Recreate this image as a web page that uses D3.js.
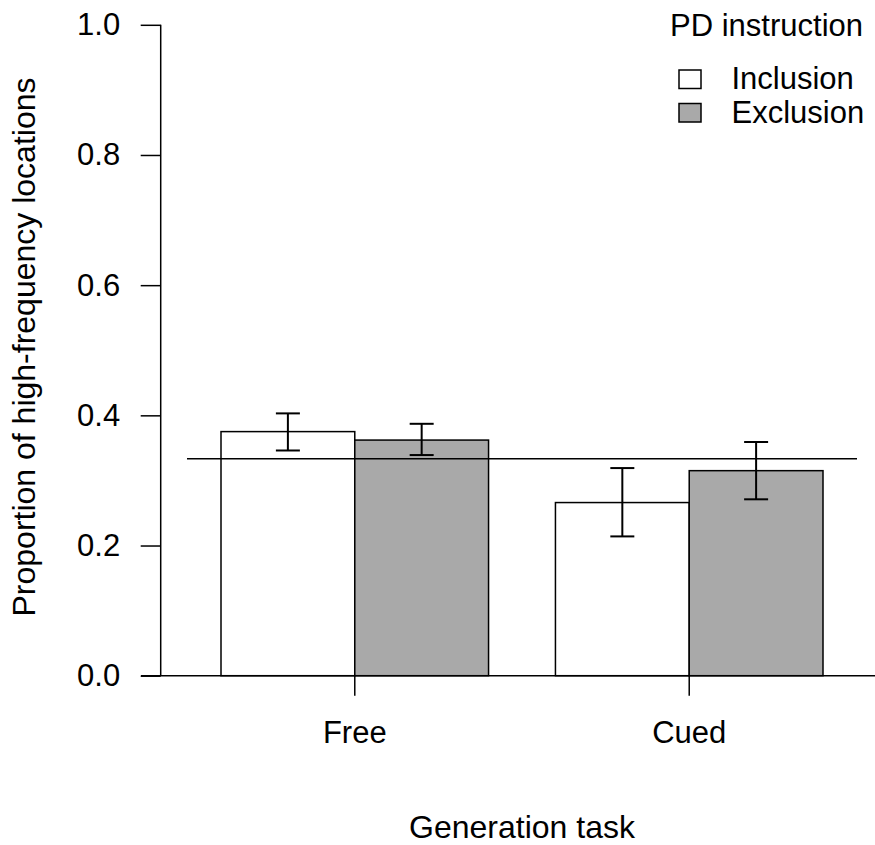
<!DOCTYPE html>
<html>
<head>
<meta charset="utf-8">
<script src="https://cdn.jsdelivr.net/npm/d3@7"></script>
<style>
  html, body { margin: 0; padding: 0; background: #fff; }
  svg { display: block; font-family: "Liberation Sans", Arial, sans-serif; }
</style>
</head>
<body>
<div id="chart"></div>
<script>
const groups = ['Free', 'Cued'];
const series = ['Inclusion', 'Exclusion'];
const inclusionMean = [0.375, 0.266];
const exclusionMean = [0.362, 0.315];
const inclusionUpper = [0.403, 0.319];
const inclusionLower = [0.346, 0.214];
const exclusionUpper = [0.387, 0.359];
const exclusionLower = [0.339, 0.271];
const chanceLevel = 1 / 3;
const yTicks = [0, 0.2, 0.4, 0.6, 0.8, 1.0];

const width = 875, height = 845;
const fills = { Inclusion: '#ffffff', Exclusion: '#a9a9a9' };
const labelSize = 31, titleSize = 32;

const rows = [];
groups.forEach((g, i) => {
  rows.push({ group: g, key: 'Inclusion', value: inclusionMean[i], lo: inclusionLower[i], hi: inclusionUpper[i] });
  rows.push({ group: g, key: 'Exclusion', value: exclusionMean[i], lo: exclusionLower[i], hi: exclusionUpper[i] });
});

const svg = d3.select('#chart').append('svg')
  .attr('width', width)
  .attr('height', height);

const y = d3.scaleLinear().domain([0, 1]).range([675.7, 24.8]);

const x0 = d3.scaleBand()
  .domain(groups)
  .range([221, 823])
  .paddingInner(0.2)
  .paddingOuter(0);

const x1 = d3.scaleBand()
  .domain(series)
  .range([0, x0.bandwidth()]);

// Y axis
const yAxis = svg.append('g')
  .attr('transform', 'translate(160.7,0)')
  .call(d3.axisLeft(y).tickValues(yTicks).tickSize(20).tickPadding(20.5).tickFormat(d3.format('.1f')));
yAxis.select('.domain').attr('d', `M0,${y(1)}V${y(0)}`).attr('stroke', '#000').attr('stroke-width', 1.5);
yAxis.selectAll('.tick line').attr('stroke', '#000').attr('stroke-width', 1.5);
yAxis.selectAll('.tick text')
  .attr('fill', '#000')
  .attr('font-size', labelSize)
  .attr('font-family', '"Liberation Sans", Arial, sans-serif');

// Bars
svg.append('g')
  .selectAll('rect')
  .data(rows)
  .enter()
  .append('rect')
  .attr('x', d => x0(d.group) + x1(d.key))
  .attr('y', d => y(d.value))
  .attr('width', x1.bandwidth())
  .attr('height', d => y(0) - y(d.value))
  .attr('fill', d => fills[d.key])
  .attr('stroke', '#000')
  .attr('stroke-width', 1.5);

// Baseline (h = 0)
svg.append('line')
  .attr('x1', 141).attr('x2', 875)
  .attr('y1', y(0)).attr('y2', y(0))
  .attr('stroke', '#000').attr('stroke-width', 1.5);

// Chance line
svg.append('line')
  .attr('x1', 187).attr('x2', 857)
  .attr('y1', y(chanceLevel)).attr('y2', y(chanceLevel))
  .attr('stroke', '#000').attr('stroke-width', 1.5);

// X axis (ticks at group centres)
const xAxis = svg.append('g')
  .attr('transform', `translate(0,${y(0)})`)
  .call(d3.axisBottom(x0).tickSize(20));
xAxis.select('.domain').remove();
xAxis.selectAll('.tick line').attr('stroke', '#000').attr('stroke-width', 1.5);
xAxis.selectAll('.tick text')
  .attr('fill', '#000')
  .attr('y', 67.5)
  .attr('dy', 0)
  .attr('font-size', labelSize)
  .attr('font-family', '"Liberation Sans", Arial, sans-serif');

// Error bars
const eb = svg.append('g')
  .attr('stroke', '#000')
  .attr('stroke-width', 2);
const cx = d => x0(d.group) + x1(d.key) + x1.bandwidth() / 2;
eb.selectAll('.stem').data(rows).enter().append('line')
  .attr('x1', cx).attr('x2', cx)
  .attr('y1', d => y(d.hi)).attr('y2', d => y(d.lo));
eb.selectAll('.capHi').data(rows).enter().append('line')
  .attr('x1', d => cx(d) - 12).attr('x2', d => cx(d) + 12)
  .attr('y1', d => y(d.hi)).attr('y2', d => y(d.hi));
eb.selectAll('.capLo').data(rows).enter().append('line')
  .attr('x1', d => cx(d) - 12).attr('x2', d => cx(d) + 12)
  .attr('y1', d => y(d.lo)).attr('y2', d => y(d.lo));

// Axis titles
svg.append('text')
  .attr('x', (x0(groups[0]) + x0(groups[1]) + x0.bandwidth()) / 2)
  .attr('y', 838)
  .attr('text-anchor', 'middle')
  .attr('font-size', titleSize)
  .text('Generation task');

svg.append('text')
  .attr('transform', `translate(35,347) rotate(-90)`)
  .attr('text-anchor', 'middle')
  .attr('font-size', titleSize)
  .text('Proportion of high-frequency locations');

// Legend
svg.append('text')
  .attr('x', 863)
  .attr('y', 36)
  .attr('text-anchor', 'end')
  .attr('font-size', labelSize)
  .text('PD instruction');

const legend = svg.append('g')
  .selectAll('g')
  .data(series)
  .enter()
  .append('g')
  .attr('transform', (d, i) => `translate(679,${70 + i * 33.5})`);
legend.append('rect')
  .attr('width', 22).attr('height', 18.5)
  .attr('fill', d => fills[d])
  .attr('stroke', '#000').attr('stroke-width', 1.5);
legend.append('text')
  .attr('x', 52.5)
  .attr('y', 19.3)
  .attr('font-size', labelSize)
  .text(d => d);
</script>
</body>
</html>
